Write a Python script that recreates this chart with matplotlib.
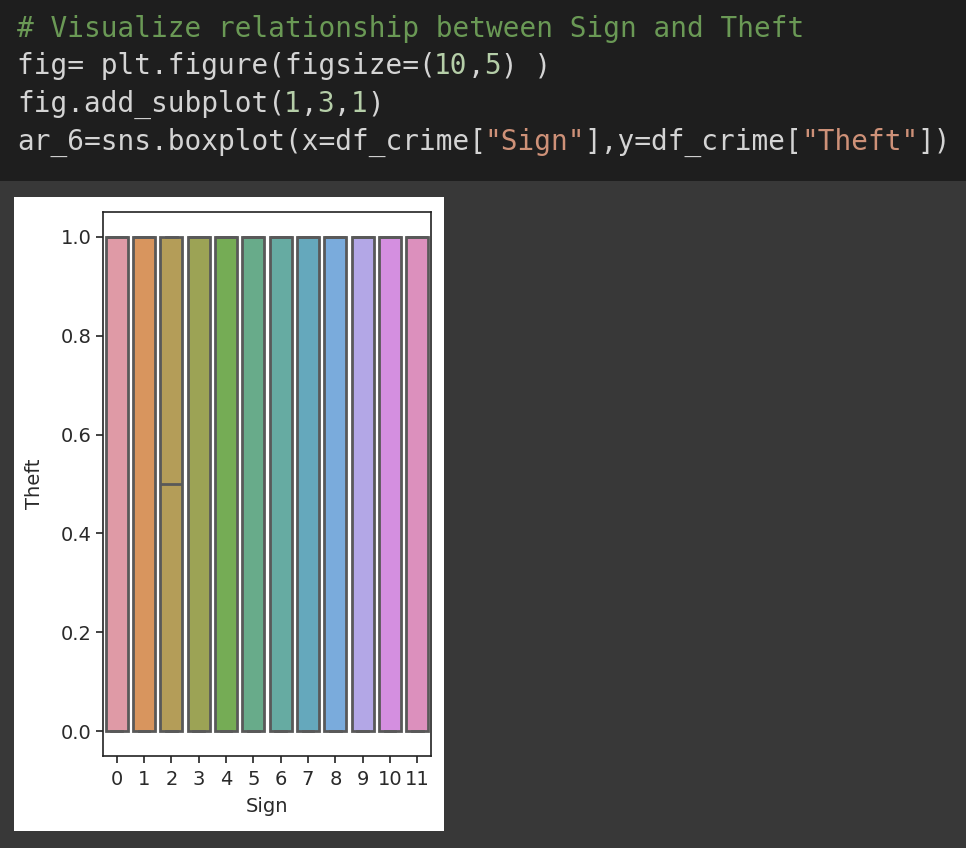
import matplotlib
matplotlib.use("Agg")
import matplotlib.pyplot as plt

# ---- data ----
signs = [str(i) for i in range(12)]
theft_q1 = [0, 0, 0, 0, 0, 0, 0, 0, 0, 0, 0, 0]
theft_median = [1, 1, 0.5, 1, 1, 1, 1, 1, 1, 1, 1, 1]
theft_q3 = [1, 1, 1, 1, 1, 1, 1, 1, 1, 1, 1, 1]
theft_whislo = [0, 0, 0, 0, 0, 0, 0, 0, 0, 0, 0, 0]
theft_whishi = [1, 1, 1, 1, 1, 1, 1, 1, 1, 1, 1, 1]
y_ticks = [0.0, 0.2, 0.4, 0.6, 0.8, 1.0]

box_colors = ["#df9aa6", "#d8955e", "#b49d58", "#9ca355", "#75ac55", "#68ab8a",
              "#66aba2", "#65a8bc", "#7aabdc", "#b3a7e6", "#d48fe0", "#dc90bd"]

code_lines = [
    [("# Visualize relationship between Sign and Theft", "comment")],
    [("fig= plt.figure(figsize=(", "text"), ("10", "num"), (",", "text"), ("5", "num"), (") )", "text")],
    [("fig.add_subplot(", "text"), ("1", "num"), (",", "text"), ("3", "num"), (",", "text"), ("1", "num"), (")", "text")],
    [("ar_6=sns.boxplot(x=df_crime[", "text"), ('"Sign"', "str"), ("],y=df_crime[", "text"), ('"Theft"', "str"), ("])", "text")],
]
code_colors = {"comment": "#6a9955", "text": "#d4d4d4", "num": "#b5cea8", "str": "#ce9178"}

W, H, DPI = 966, 848, 100
fig = plt.figure(figsize=(W / DPI, H / DPI), dpi=DPI)
fig.patch.set_facecolor("#383838")

# code cell background
fig.patches.append(plt.Rectangle((0, 1 - 181 / H), 1, 181 / H, transform=fig.transFigure,
                                 facecolor="#1e1e1e", edgecolor="none", zorder=-10))
# white output image
fig.patches.append(plt.Rectangle((14 / W, 1 - 831 / H), (444 - 14) / W, (831 - 197) / H,
                                 transform=fig.transFigure, facecolor="white",
                                 edgecolor="none", zorder=-10))

fs = 19.95
adv = 0.602 * fs * DPI / 72.0
x0 = 17
baselines = [37, 74.5, 112, 149.5]
for line, base in zip(code_lines, baselines):
    n = 0
    for seg, kind in line:
        fig.text((x0 + n * adv) / W, 1 - base / H, seg, family="DejaVu Sans Mono",
                 fontsize=fs, color=code_colors[kind], va="baseline", ha="left")
        n += len(seg)

# axes
ax = fig.add_axes([103 / W, 1 - 756 / H, (431 - 103) / W, (756 - 212) / H])
ax.set_zorder(5)
stats = []
for i, s in enumerate(signs):
    stats.append(dict(label=s, q1=theft_q1[i], med=theft_median[i], q3=theft_q3[i],
                      whislo=theft_whislo[i], whishi=theft_whishi[i], fliers=[]))
gray = "#595959"
lw = 2.0
bp = ax.bxp(stats, positions=range(len(signs)), widths=0.8, patch_artist=True,
            showfliers=False,
            boxprops=dict(edgecolor=gray, linewidth=lw),
            medianprops=dict(color=gray, linewidth=lw),
            whiskerprops=dict(color=gray, linewidth=lw),
            capprops=dict(color=gray, linewidth=lw))
for patch, c in zip(bp["boxes"], box_colors):
    patch.set_facecolor(c)

ax.set_xlim(-0.5, len(signs) - 0.5)
ax.set_ylim(-0.05, 1.05)
ax.set_yticks(y_ticks)
ax.set_yticklabels([f"{v:.1f}" for v in y_ticks])
ax.set_xticks(range(len(signs)))
ax.set_xticklabels(signs)
ax.tick_params(labelsize=14, length=5, width=1.2, colors="#222222", labelcolor="#2a2a2a")
ax.tick_params(axis="x", pad=5)
ax.tick_params(axis="y", pad=3)
for sp in ax.spines.values():
    sp.set_linewidth(1.2)
    sp.set_color("#222222")
ax.set_xlabel("Sign", fontsize=14, color="#2a2a2a", labelpad=6)
ax.set_ylabel("Theft", fontsize=14, color="#2a2a2a", labelpad=12)

fig.savefig("out.png", dpi=DPI, facecolor=fig.get_facecolor())
